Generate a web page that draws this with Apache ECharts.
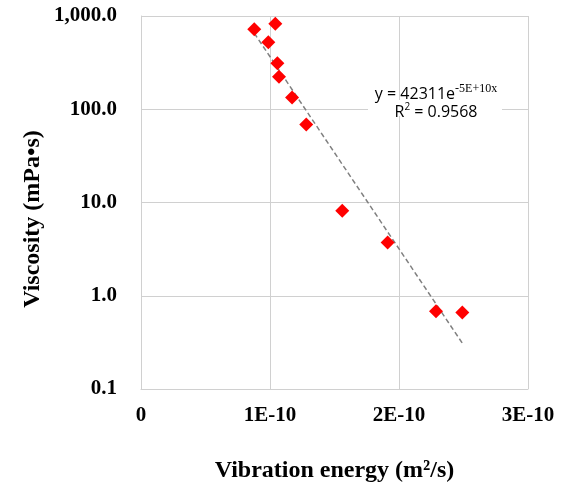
<!DOCTYPE html>
<html><head><meta charset="utf-8">
<script src="https://cdn.jsdelivr.net/npm/echarts@6/dist/echarts.min.js"></script>
<style>html,body{margin:0;padding:0;background:#fff}#c{width:563px;height:488px}</style>
</head><body><div id="c"></div>
<script>
var energy = [0.878e-10, 1.041e-10, 0.987e-10, 1.057e-10, 1.070e-10, 1.171e-10, 1.281e-10, 1.560e-10, 1.912e-10, 2.287e-10, 2.491e-10];
var viscosity = [721, 827, 524, 312, 223, 134, 68.8, 8.15, 3.73, 0.68, 0.66];
var trendX = [0.878e-10, 2.491e-10];
var trendY = [654, 0.31];
var xTicks = ['0', '1E-10', '2E-10', '3E-10'];
var yTicks = ['0.1', '1.0', '10.0', '100.0', '1,000.0'];

var chart = echarts.init(document.getElementById('c'));
var serif = '"Liberation Serif", "Times New Roman", serif';
var sans = '"Open Sans", "Noto Sans", sans-serif';
chart.setOption({
  animation: false,
  grid: {left: 141, top: 16, right: 35, bottom: 98},
  xAxis: {
    type: 'value', min: 0, max: 3e-10, interval: 1e-10,
    name: 'Vibration energy (m²/s)', nameLocation: 'middle', nameGap: 70,
    nameTextStyle: {fontFamily: serif, fontWeight: 'bold', fontSize: 24, color: '#000'},
    axisLine: {show: true, lineStyle: {color: '#d0d0d0'}},
    axisTick: {show: false},
    splitLine: {show: true, lineStyle: {color: '#d0d0d0'}},
    axisLabel: {fontFamily: serif, fontWeight: 'bold', fontSize: 21, color: '#000', margin: 16,
      formatter: function (v) { return xTicks[Math.round(v / 1e-10)]; }}
  },
  yAxis: {
    type: 'log', logBase: 10, min: 0.1, max: 1000,
    axisLine: {show: true, lineStyle: {color: '#d0d0d0'}},
    axisTick: {show: false},
    splitLine: {show: true, lineStyle: {color: '#d0d0d0'}},
    axisLabel: {fontFamily: serif, fontWeight: 'bold', fontSize: 21, color: '#000', margin: 24,
      formatter: function (v) { return yTicks[Math.round(Math.log10(v)) + 1]; }}
  },
  series: [
    {
      type: 'line', data: trendX.map(function (x, i) { return [x, trendY[i]]; }),
      symbol: 'none', lineStyle: {color: '#808080', width: 1.5, type: [5, 3]}, z: 3
    },
    {
      type: 'scatter', data: energy.map(function (x, i) { return [x, viscosity[i]]; }),
      symbol: 'diamond', symbolSize: [14, 14], itemStyle: {color: '#ff0000', opacity: 1}, z: 4
    }
  ],
  graphic: [
    {type: 'text', x: 33, y: 219, rotation: Math.PI / 2, z: 11, style: {
      text: 'Viscosity (mPa•s)', fontFamily: serif, fontWeight: 'bold', fontSize: 24, fill: '#000',
      align: 'center', verticalAlign: 'middle'}},
    {type: 'rect', left: 368, top: 100, shape: {width: 134, height: 16}, style: {fill: '#fff'}, z: 10},
    {type: 'text', x: 436, y: 94, z: 11, style: {
      text: '{a|y = 42311e}{s|-5E+10x}', align: 'center', verticalAlign: 'middle', rich: {
        a: {fontFamily: sans, fontSize: 16, color: '#404040'},
        s: {fontFamily: serif, fontSize: 12, color: '#404040', padding: [0, 0, 10, 0]}
      }}},
    {type: 'text', x: 436, y: 112, z: 11, style: {
      text: '{a|R}{s|2}{a| = 0.9568}', align: 'center', verticalAlign: 'middle', rich: {
        a: {fontFamily: sans, fontSize: 16, color: '#404040'},
        s: {fontFamily: sans, fontSize: 10, color: '#404040', padding: [0, 0, 9, 0]}
      }}}
  ]
});
</script></body></html>
